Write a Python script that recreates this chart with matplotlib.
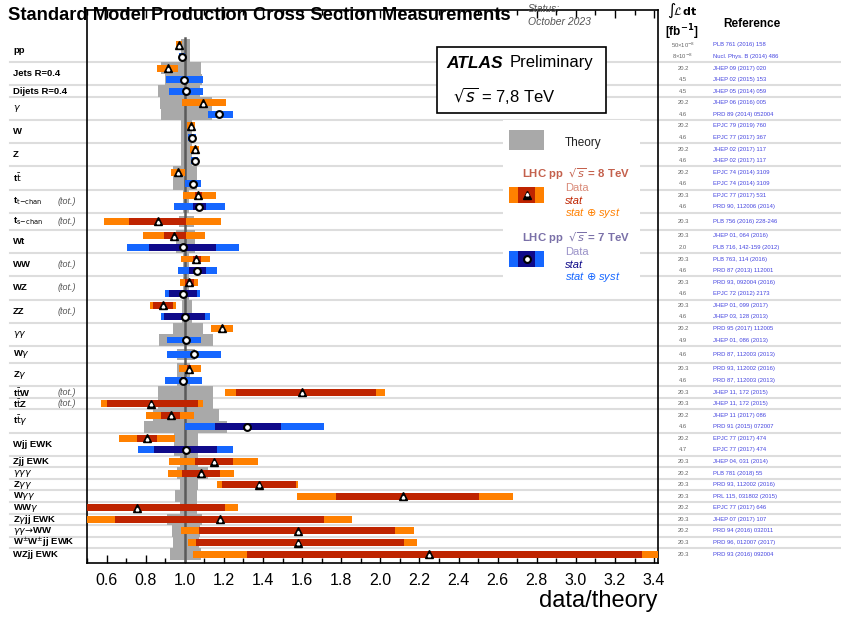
import matplotlib
matplotlib.use("Agg")
import matplotlib.pyplot as plt
import matplotlib.transforms as mtransforms
from matplotlib.patches import Rectangle
from matplotlib.lines import Line2D

plt.rcParams["font.family"] = ["Liberation Sans", "DejaVu Sans"]
plt.rcParams["mathtext.fontset"] = "dejavusans"

# ---- measurements, top to bottom ----
proc = ["pp", "pp", "Jets", "Jets", "Dijets", "gam", "gam", "W", "W", "Z", "Z",
        "tt", "tt", "tchan", "tchan", "schan", "Wt", "Wt", "WW", "WW", "WZ", "WZ",
        "ZZ", "ZZ", "gg", "gg", "Wg", "Zg", "Zg", "ttW", "ttZ", "ttg", "ttg",
        "Wjj", "Wjj", "Zjj", "ggg", "Zgg", "Wgg", "WWg", "Zgjj", "ggWW", "ssWW", "WZjj"]
energy = [8, 7, 8, 7, 7, 8, 7, 8, 7, 8, 7,
          8, 7, 8, 7, 8, 8, 7, 8, 7, 8, 7,
          8, 7, 8, 7, 7, 8, 7, 8, 8, 8, 7,
          8, 7, 8, 8, 8, 8, 8, 8, 8, 8, 8]
central = [0.972, 0.987, 0.914, 0.996, 1.006, 1.094, 1.173, 1.032, 1.035, 1.050, 1.050,
           0.965, 1.040, 1.070, 1.074, 0.861, 0.946, 0.989, 1.057, 1.065, 1.023, 0.989,
           0.889, 1.003, 1.191, 1.006, 1.048, 1.023, 0.992, 1.600, 0.826, 0.928, 1.319,
           0.809, 1.006, 1.149, 1.084, 1.378, 2.115, 0.756, 1.178, 1.579, 1.580, 2.247]
stat_lo = [0.972, 0.987, 0.914, 0.996, 1.006, 1.094, 1.173, 1.032, 1.035, 1.050, 1.050,
           0.965, 1.040, 1.050, 1.043, 0.717, 0.895, 0.819, 1.040, 1.023, 0.999, 0.921,
           0.839, 0.895, 1.183, 1.006, 1.038, 1.013, 0.980, 1.263, 0.600, 0.880, 1.156,
           0.758, 0.844, 1.054, 0.987, 1.191, 1.773, 0.300, 0.645, 1.074, 1.059, 1.316]
stat_hi = [0.972, 0.987, 0.914, 0.996, 1.006, 1.094, 1.173, 1.032, 1.035, 1.050, 1.050,
           0.965, 1.040, 1.089, 1.110, 1.006, 1.006, 1.161, 1.083, 1.110, 1.045, 1.064,
           0.941, 1.105, 1.200, 1.006, 1.064, 1.033, 1.005, 1.977, 1.069, 0.977, 1.490,
           0.860, 1.166, 1.247, 1.181, 1.569, 2.503, 1.207, 1.712, 2.074, 2.120, 3.338]
tot_lo = [0.957, 0.972, 0.860, 0.906, 0.921, 0.987, 1.120, 1.011, 1.018, 1.028, 1.030,
          0.931, 1.003, 0.992, 0.946, 0.589, 0.788, 0.707, 0.982, 0.967, 0.977, 0.900,
          0.824, 0.880, 1.135, 0.911, 0.911, 0.972, 0.900, 1.207, 0.574, 0.804, 1.003,
          0.666, 0.763, 0.921, 0.916, 1.166, 1.574, 0.200, 0.400, 0.982, 1.018, 1.042]
tot_hi = [0.988, 1.000, 0.965, 1.094, 1.094, 1.212, 1.246, 1.052, 1.057, 1.074, 1.070,
          0.999, 1.084, 1.161, 1.207, 1.185, 1.105, 1.278, 1.130, 1.166, 1.069, 1.079,
          0.957, 1.130, 1.246, 1.084, 1.186, 1.084, 1.089, 2.023, 1.094, 1.047, 1.712,
          0.952, 1.247, 1.375, 1.253, 1.580, 2.681, 1.273, 1.855, 2.171, 2.186, 3.600]
theory_lo = [0.980, 0.980, 0.880, 0.900, 0.865, 0.871, 0.877, 0.979, 0.979, 0.979, 0.979,
             0.941, 0.941, 0.990, 0.990, 0.968, 0.957, 0.957, 0.990, 0.990, 0.990, 0.990,
             0.986, 0.986, 0.941, 0.870, 0.960, 0.962, 0.962, 0.865, 0.865, 0.839, 0.793,
             0.946, 0.946, 0.977, 0.962, 0.977, 0.952, 0.977, 0.911, 0.936, 0.941, 0.926]
theory_hi = [1.028, 1.028, 1.085, 1.090, 1.080, 1.140, 1.140, 1.037, 1.037, 1.037, 1.037,
             1.062, 1.062, 1.020, 1.020, 1.045, 1.054, 1.054, 1.020, 1.020, 1.020, 1.020,
             1.037, 1.037, 1.094, 1.145, 1.050, 1.028, 1.028, 1.145, 1.145, 1.176, 1.217,
             1.069, 1.069, 1.069, 1.120, 1.069, 1.064, 1.060, 1.089, 1.079, 1.074, 1.084]
lumi = ["50×10$^{-8}$", "8×10$^{-8}$", "20.2", "4.5", "4.5", "20.2", "4.6", "20.2", "4.6",
        "20.2", "4.6", "20.2", "4.6", "20.3", "4.6", "20.3", "20.3", "2.0", "20.3", "4.6",
        "20.3", "4.6", "20.3", "4.6", "20.2", "4.9", "4.6", "20.3", "4.6", "20.3", "20.3",
        "20.2", "4.6", "20.2", "4.7", "20.3", "20.2", "20.3", "20.3", "20.2", "20.3", "20.2",
        "20.3", "20.3"]
refs = ["PLB 761 (2016) 158", "Nucl. Phys. B (2014) 486", "JHEP 09 (2017) 020",
        "JHEP 02 (2015) 153", "JHEP 05 (2014) 059", "JHEP 06 (2016) 005",
        "PRD 89 (2014) 052004", "EPJC 79 (2019) 760", "EPJC 77 (2017) 367",
        "JHEP 02 (2017) 117", "JHEP 02 (2017) 117", "EPJC 74 (2014) 3109",
        "EPJC 74 (2014) 3109", "EPJC 77 (2017) 531", "PRD 90, 112006 (2014)",
        "PLB 756 (2016) 228-246", "JHEP 01, 064 (2016)", "PLB 716, 142-159 (2012)",
        "PLB 763, 114 (2016)", "PRD 87 (2013) 112001", "PRD 93, 092004 (2016)",
        "EPJC 72 (2012) 2173", "JHEP 01, 099 (2017)", "JHEP 03, 128 (2013)",
        "PRD 95 (2017) 112005", "JHEP 01, 086 (2013)", "PRD 87, 112003 (2013)",
        "PRD 93, 112002 (2016)", "PRD 87, 112003 (2013)", "JHEP 11, 172 (2015)",
        "JHEP 11, 172 (2015)", "JHEP 11 (2017) 086", "PRD 91 (2015) 072007",
        "EPJC 77 (2017) 474", "EPJC 77 (2017) 474", "JHEP 04, 031 (2014)",
        "PLB 781 (2018) 55", "PRD 93, 112002 (2016)", "PRL 115, 031802 (2015)",
        "EPJC 77 (2017) 646", "JHEP 07 (2017) 107", "PRD 94 (2016) 032011",
        "PRD 96, 012007 (2017)", "PRD 93 (2016) 092004"]

labels = {"pp": "pp", "Jets": "Jets R=0.4", "Dijets": "Dijets R=0.4", "gam": r"$\gamma$",
          "W": "W", "Z": "Z", "tt": r"t$\bar{\rm t}$", "tchan": r"t$_{\rm t\!-\!chan}$",
          "schan": r"t$_{\rm s\!-\!chan}$", "Wt": "Wt", "WW": "WW", "WZ": "WZ", "ZZ": "ZZ",
          "gg": r"$\gamma\gamma$", "Wg": r"W$\gamma$", "Zg": r"Z$\gamma$",
          "ttW": r"t$\bar{\rm t}$W", "ttZ": r"t$\bar{\rm t}$Z", "ttg": r"t$\bar{\rm t}\gamma$",
          "Wjj": "Wjj EWK", "Zjj": "Zjj EWK", "ggg": r"$\gamma\gamma\gamma$",
          "Zgg": r"Z$\gamma\gamma$", "Wgg": r"W$\gamma\gamma$", "WWg": r"WW$\gamma$",
          "Zgjj": r"Z$\gamma$jj EWK", "ggWW": r"$\gamma\gamma\!\rightarrow\!$WW",
          "ssWW": r"W$^{\pm}$W$^{\pm}$jj EWK", "WZjj": "WZjj EWK"}
tot_only = ["tchan", "schan", "WW", "WZ", "ZZ", "ttW", "ttZ"]
roomy = ["schan", "Wg"]   # single entries that get a bit more space

col8_tot, col8_stat = "#ff8000", "#bf2400"
col7_tot, col7_stat = "#1566ff", "#0f0a8a"
col_th = "#a9a9a9"

# ---- row positions (one unit per entry, groups split by a line) ----
ypos, seps = [], []
y = 0.0
for i, p in enumerate(proc):
    if i == 0:
        pass
    elif p != proc[i - 1]:
        sep = y + 0.5 + (0.25 if proc[i - 1] in roomy else 0)
        seps.append(sep)
        y = sep + 0.5 + (0.25 if p in roomy else 0)
    else:
        y += 1
    ypos.append(y)

W, H = 841, 621
fig = plt.figure(figsize=(W / 100, H / 100), dpi=100)
ax = fig.add_axes([87 / W, 1 - 563 / H, 571 / W, 553 / H])
fx = lambda px: px / W
fy = lambda py: 1 - py / H
bl = mtransforms.blended_transform_factory(fig.transFigure, ax.transData)

TRI, TRI_IN, CIRC, CIRC_EW = 5.2, 1.9, 4.9, 1.5

# separators across the whole page
for s in seps:
    ax.plot([fx(10), fx(841)], [s, s], color="#dddddd", lw=1.5, transform=bl,
            clip_on=False, zorder=0)

for i in range(len(proc)):
    yy = ypos[i]
    ax.barh(yy, theory_hi[i] - theory_lo[i], left=theory_lo[i], height=1.0,
            color=col_th, zorder=2, lw=0)
ax.plot([1, 1], [-0.6, 50], color="#5a5a5a", lw=1.8, zorder=2.5)

for i in range(len(proc)):
    yy = ypos[i]
    ct, cs = (col8_tot, col8_stat) if energy[i] == 8 else (col7_tot, col7_stat)
    ax.barh(yy, tot_hi[i] - tot_lo[i], left=tot_lo[i], height=0.6, color=ct, zorder=3, lw=0)
    if stat_hi[i] > stat_lo[i]:
        ax.barh(yy, stat_hi[i] - stat_lo[i], left=stat_lo[i], height=0.6, color=cs,
                zorder=4, lw=0)
    if energy[i] == 8:
        ax.plot(central[i], yy, marker="^", ms=TRI, color="black", zorder=6)
        ax.plot(central[i], yy + 0.07, marker="^", ms=TRI_IN, color="white", zorder=7)
    else:
        ax.plot(central[i], yy, marker="o", ms=CIRC, mfc="white", mec="black",
                mew=CIRC_EW, zorder=6)
    ax.text(fx(683), yy, lumi[i], transform=bl, ha="center", va="center",
            fontsize=4.2, color="#666666")
    ax.text(fx(713), yy, refs[i], transform=bl, ha="left", va="center",
            fontsize=4.2, color="#4545e0")

# process names on the left
for p in labels:
    ys = [ypos[i] for i in range(len(proc)) if proc[i] == p]
    yc = sum(ys) / len(ys)
    ax.text(fx(13), yc, labels[p], transform=bl, ha="left", va="center",
            fontsize=6.8, fontweight="bold")
    if p in tot_only:
        ax.text(fx(58), yc, "(tot.)", transform=bl, ha="left", va="center",
                fontsize=6.5, style="italic", color="#555555")

ax.set_xlim(0.5, 3.42)
ax.set_ylim(44.77, -3.02)
ax.set_xticks([0.6 + 0.2 * k for k in range(15)])
ax.set_xticklabels(["%.1f" % (0.6 + 0.2 * k) for k in range(15)], fontsize=11.5)
ax.set_xticks([0.5 + 0.1 * k for k in range(30)], minor=True)
ax.tick_params(axis="x", which="both", direction="in", top=True, bottom=True, pad=7)
ax.tick_params(axis="x", which="major", length=6, width=1)
ax.tick_params(axis="x", which="minor", length=3.5, width=1)
ax.set_yticks([])
for sp in ax.spines.values():
    sp.set_linewidth(1.2)
ax.set_xlabel("data/theory", fontsize=17, loc="right", labelpad=2)

# header
fig.text(fx(8), fy(16), "Standard Model Production Cross Section Measurements",
         fontsize=13.2, fontweight="bold", va="center")
fig.text(fx(528), fy(9), "Status:", fontsize=7.5, style="italic", color="#555555",
         va="center")
fig.text(fx(528), fy(22), "October 2023", fontsize=7.5, style="italic", color="#555555",
         va="center")
fig.text(fx(682), fy(11), r"$\int\!\mathcal{L}\,\mathbf{dt}$", fontsize=8, ha="center",
         va="center")
fig.text(fx(682), fy(32), r"[fb$^{\mathbf{-1}}$]", fontsize=8.5, fontweight="bold",
         ha="center", va="center")
fig.text(fx(752), fy(24), "Reference", fontsize=8.5, fontweight="bold", ha="center",
         va="center")

# ATLAS box
fig.add_artist(Rectangle((fx(437), fy(113)), fx(169), 66 / H, transform=fig.transFigure,
                         facecolor="white", edgecolor="black", lw=1.2, zorder=1))
fig.text(fx(446), fy(63), "ATLAS", fontsize=12.5, fontweight="bold", style="italic",
         va="center", zorder=3)
fig.text(fx(510), fy(63), "Preliminary", fontsize=12, va="center", zorder=3)
fig.text(fx(453), fy(95), r"$\sqrt{s}$ = 7,8 TeV", fontsize=12, va="center", zorder=3)

# legend
fig.add_artist(Rectangle((fx(503), fy(292)), fx(137), 172 / H, transform=fig.transFigure,
                         facecolor="white", edgecolor="none", zorder=1))
fig.add_artist(Rectangle((fx(509), fy(150)), fx(35), 20 / H, transform=fig.transFigure,
                         facecolor=col_th, edgecolor="none", zorder=2))
fig.text(fx(565), fy(143), "Theory", fontsize=8.5, va="center", color="#222222", zorder=3)

for top, ct, cs, head_c, data_c, e in [(187, col8_tot, col8_stat, "#c4604c", "#d98a78", 8),
                                        (251, col7_tot, col7_stat, "#7a70a8", "#9a92c8", 7)]:
    fig.text(fx(522), fy(top - 13), r"LHC pp  $\sqrt{s}$ = %d TeV" % e, fontsize=8.2,
             fontweight="bold", color=head_c, va="center", zorder=3)
    fig.add_artist(Rectangle((fx(509), fy(top + 16)), fx(35), 16 / H,
                             transform=fig.transFigure, facecolor=ct, edgecolor="none",
                             zorder=2))
    fig.add_artist(Rectangle((fx(518), fy(top + 16)), fx(17), 16 / H,
                             transform=fig.transFigure, facecolor=cs, edgecolor="none",
                             zorder=2))
    if e == 8:
        fig.add_artist(Line2D([fx(526.5)], [fy(top + 8)], marker="^", ms=TRI, color="black",
                              transform=fig.transFigure, zorder=3))
        fig.add_artist(Line2D([fx(526.5)], [fy(top + 7.3)], marker="^", ms=TRI_IN,
                              color="white", transform=fig.transFigure, zorder=4))
    else:
        fig.add_artist(Line2D([fx(526.5)], [fy(top + 8)], marker="o", ms=CIRC, mfc="white",
                              mec="black", mew=CIRC_EW, transform=fig.transFigure, zorder=3))
    fig.text(fx(565), fy(top + 1), "Data", fontsize=8, color=data_c, va="center", zorder=3)
    fig.text(fx(565), fy(top + 14), "stat", fontsize=8, style="italic", color=cs,
             va="center", zorder=3)
    fig.text(fx(565), fy(top + 26.5), r"stat $\oplus$ syst", fontsize=8, style="italic",
             color=ct, va="center", zorder=3)

fig.savefig("out.png", dpi=100)
